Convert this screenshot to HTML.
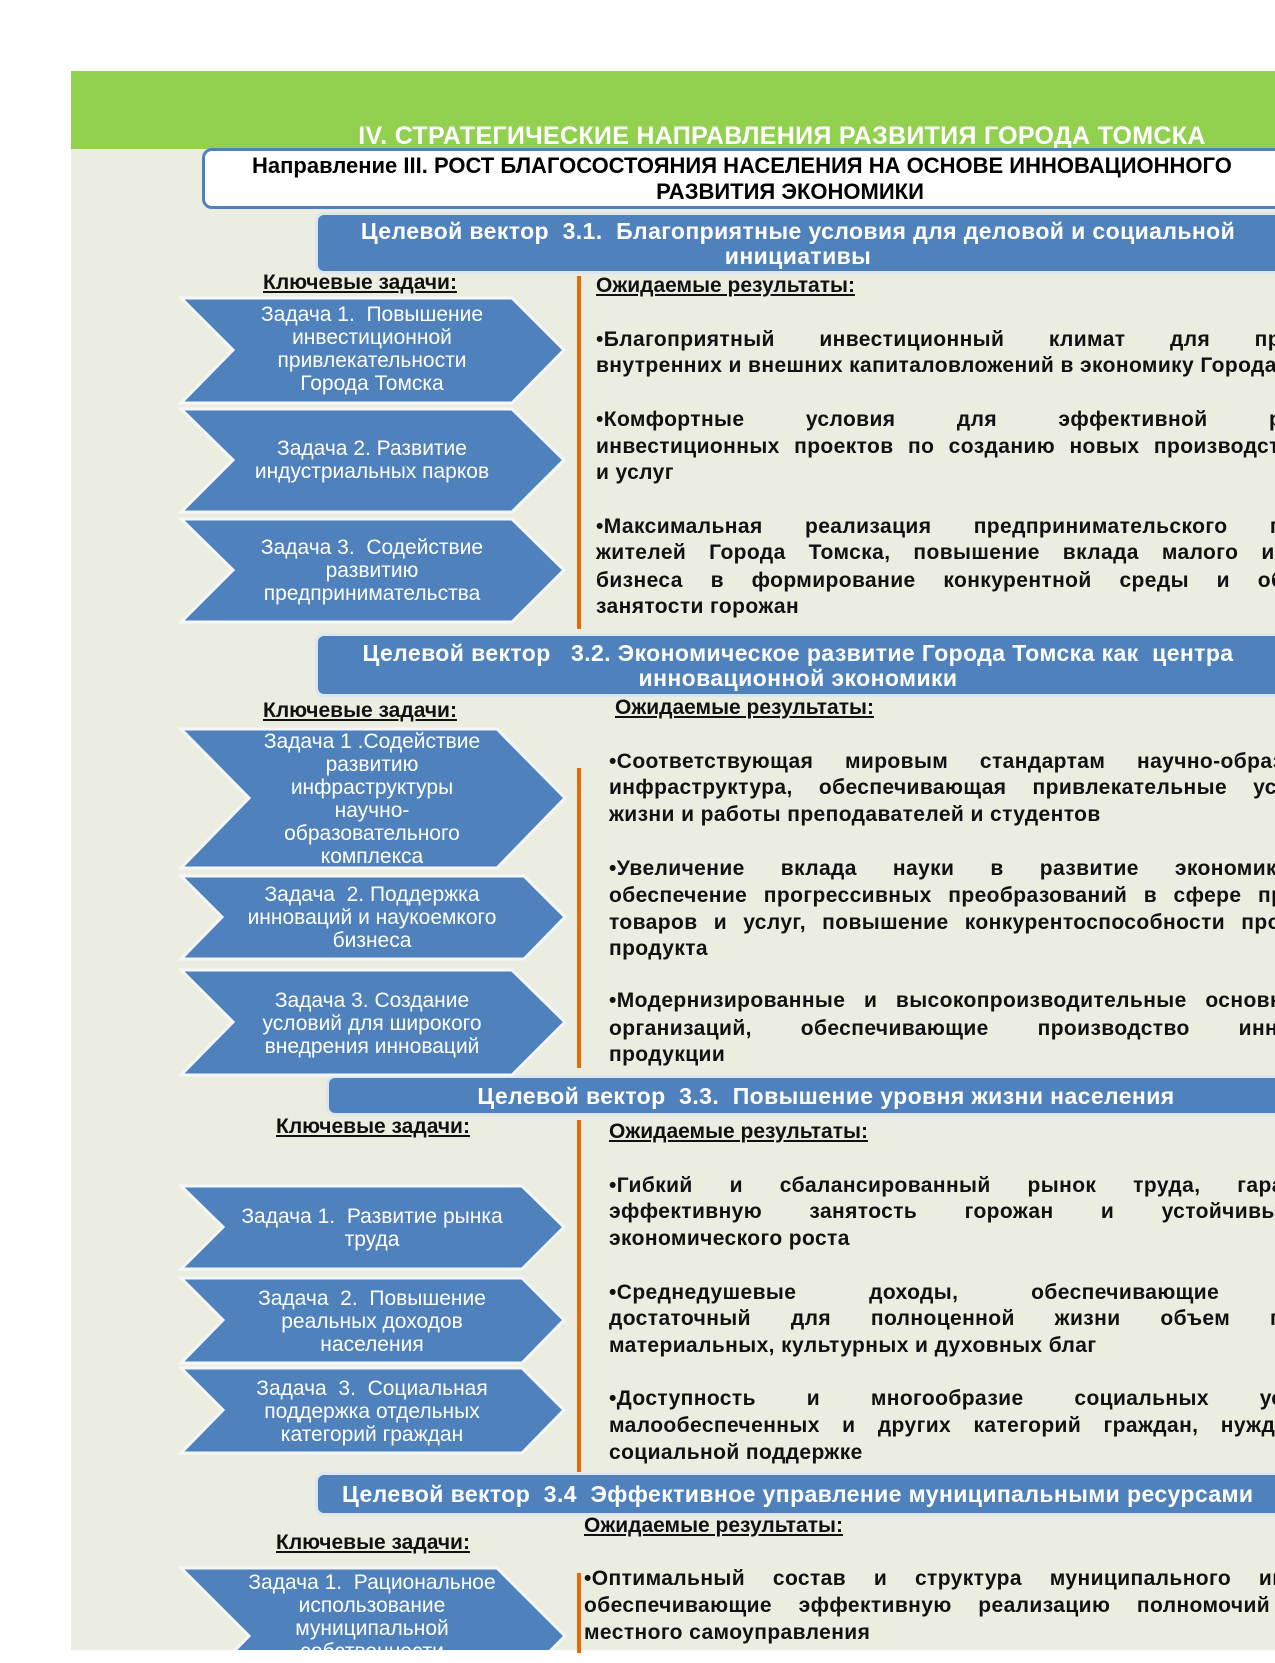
<!DOCTYPE html>
<html><head><meta charset="utf-8"><style>
html,body{margin:0;padding:0}
body{width:1275px;height:1650px;position:relative;overflow:hidden;background:#fff;font-family:"Liberation Sans",Arial,sans-serif}
.a{position:absolute}
.bg{left:71px;top:149px;width:1204px;height:1501px;background:#ebede0}
.green{left:71px;top:71px;width:1204px;height:78px;background:#92d050}
.vec{position:absolute;background:#4f81bd;color:#fff;font-weight:bold;font-size:23px;letter-spacing:0.4px;text-align:center;border-radius:6px 0 0 6px;box-shadow:0 0 0 3px #dce6f2}
.vec div{white-space:nowrap;position:absolute;left:0;width:100%;text-align:center}
.lbl{position:absolute;font-weight:bold;font-size:21px;text-decoration:underline;white-space:nowrap;color:#111}
.ln{position:absolute;width:800px;font-weight:bold;font-size:21px;letter-spacing:0.4px;line-height:26px;height:26px;white-space:nowrap;color:#111}
.j{text-align:justify;text-align-last:justify}
.or{position:absolute;width:4px;background:#e36c0a}
.arr{position:absolute}
.at{position:absolute;color:#fff;font-size:21px;line-height:23px;text-align:center;width:310px;white-space:nowrap}
</style></head><body>
<div class="a bg"></div>
<div class="a green"></div>
<div class="a" style="left:300px;top:122px;width:964px;text-align:center;color:#fff;font-weight:bold;font-size:25px;white-space:nowrap;letter-spacing:0.3px">IV. СТРАТЕГИЧЕСКИЕ НАПРАВЛЕНИЯ РАЗВИТИЯ ГОРОДА ТОМСКА</div>
<div class="a" style="left:202px;top:148px;width:1100px;height:61px;background:#fff;border:3px solid #4f81bd;border-radius:10px;box-sizing:border-box"></div>
<div class="a" style="left:252px;top:153px;white-space:nowrap;font-weight:bold;font-size:22px;color:#000">Направление III. РОСТ БЛАГОСОСТОЯНИЯ НАСЕЛЕНИЯ НА ОСНОВЕ ИННОВАЦИОННОГО</div>
<div class="a" style="left:560px;top:179px;width:460px;text-align:center;white-space:nowrap;font-weight:bold;font-size:22px;color:#000">РАЗВИТИЯ ЭКОНОМИКИ</div>

<!-- Vector 3.1 -->
<div class="vec" style="left:318px;top:215px;width:990px;height:56px">
<div style="top:3px;left:-15px">Целевой вектор&nbsp; 3.1.&nbsp; Благоприятные условия для деловой и социальной</div>
<div style="top:28px;left:-15px">инициативы</div></div>
<div class="lbl" style="left:263px;top:271px">Ключевые задачи:</div>
<div class="lbl" style="left:596px;top:274px">Ожидаемые результаты:</div>
<div class="or" style="left:577px;top:276px;height:353px"></div>
<div class="ln j" style="left:596px;top:327px">•Благоприятный инвестиционный климат для привлечения</div>
<div class="ln" style="left:596px;top:353px">внутренних и внешних капиталовложений в экономику Города Томска</div>
<div class="ln j" style="left:596px;top:407px">•Комфортные условия для эффективной реализации</div>
<div class="ln j" style="left:596px;top:434px">инвестиционных проектов по созданию новых производств товаров</div>
<div class="ln" style="left:596px;top:460px">и услуг</div>
<div class="ln j" style="left:596px;top:514px">•Максимальная реализация предпринимательского потенциала</div>
<div class="ln j" style="left:596px;top:540px">жителей Города Томска, повышение вклада малого и среднего</div>
<div class="ln j" style="left:596px;top:568px">бизнеса в формирование конкурентной среды и обеспечение</div>
<div class="ln" style="left:596px;top:594px">занятости горожан</div>

<!-- Vector 3.2 -->
<div class="vec" style="left:318px;top:636px;width:990px;height:58px">
<div style="top:4px;left:-15px">Целевой вектор&nbsp;&nbsp; 3.2. Экономическое развитие Города Томска как&nbsp; центра</div>
<div style="top:29px;left:-15px">инновационной экономики</div></div>
<div class="lbl" style="left:263px;top:699px">Ключевые задачи:</div>
<div class="lbl" style="left:615px;top:696px">Ожидаемые результаты:</div>
<div class="or" style="left:577px;top:768px;height:300px"></div>
<div class="ln j" style="left:609px;top:749px">•Соответствующая мировым стандартам научно-образовательная</div>
<div class="ln j" style="left:609px;top:775px">инфраструктура, обеспечивающая привлекательные условия для</div>
<div class="ln" style="left:609px;top:802px">жизни и работы преподавателей и студентов</div>
<div class="ln j" style="left:609px;top:856px">•Увеличение вклада науки в развитие экономики Города,</div>
<div class="ln j" style="left:609px;top:883px">обеспечение прогрессивных преобразований в сфере производства</div>
<div class="ln j" style="left:609px;top:910px">товаров и услуг, повышение конкурентоспособности производимого</div>
<div class="ln" style="left:609px;top:936px">продукта</div>
<div class="ln j" style="left:609px;top:988px">•Модернизированные и высокопроизводительные основные фонды</div>
<div class="ln j" style="left:609px;top:1016px">организаций, обеспечивающие производство инновационной</div>
<div class="ln" style="left:609px;top:1042px">продукции</div>

<!-- Vector 3.3 -->
<div class="vec" style="left:329px;top:1078px;width:994px;height:35px">
<div style="top:5px">Целевой вектор&nbsp; 3.3.&nbsp; Повышение уровня жизни населения</div></div>
<div class="lbl" style="left:276px;top:1115px">Ключевые задачи:</div>
<div class="lbl" style="left:609px;top:1120px">Ожидаемые результаты:</div>
<div class="or" style="left:577px;top:1120px;height:353px"></div>
<div class="ln j" style="left:609px;top:1173px">•Гибкий и сбалансированный рынок труда, гарантирующий</div>
<div class="ln j" style="left:609px;top:1199px">эффективную занятость горожан и устойчивые темпы</div>
<div class="ln" style="left:609px;top:1226px">экономического роста</div>
<div class="ln j" style="left:609px;top:1280px">•Среднедушевые доходы, обеспечивающие горожанам</div>
<div class="ln j" style="left:609px;top:1306px">достаточный для полноценной жизни объем потребления</div>
<div class="ln" style="left:609px;top:1333px">материальных, культурных и духовных благ</div>
<div class="ln j" style="left:609px;top:1386px">•Доступность и многообразие социальных услуг для</div>
<div class="ln j" style="left:609px;top:1413px">малообеспеченных и других категорий граждан, нуждающихся в</div>
<div class="ln" style="left:609px;top:1440px">социальной поддержке</div>

<!-- Vector 3.4 -->
<div class="vec" style="left:318px;top:1475px;width:1000px;height:38px">
<div style="top:6px;left:24px;text-align:left">Целевой вектор&nbsp; 3.4&nbsp; Эффективное управление муниципальными ресурсами</div></div>
<div class="lbl" style="left:584px;top:1514px">Ожидаемые результаты:</div>
<div class="lbl" style="left:276px;top:1531px">Ключевые задачи:</div>
<div class="or" style="left:577px;top:1573px;height:80px"></div>
<div class="ln j" style="left:584px;top:1566px">•Оптимальный состав и структура муниципального имущества,</div>
<div class="ln j" style="left:584px;top:1593px">обеспечивающие эффективную реализацию полномочий органов</div>
<div class="ln" style="left:584px;top:1620px">местного самоуправления</div>

<!-- arrows -->
<svg class="arr" style="left:0;top:0" width="1275" height="1650">
<g fill="#4f81bd" stroke="#f4f6fa" stroke-width="3">
<polygon points="181,298 512,298 564,350 512,403 181,403 233,350"/>
<polygon points="181,409 512,409 564,460 512,512 181,512 233,460"/>
<polygon points="181,519 512,519 564,570 512,622 181,622 233,570"/>
<polygon points="181,729 497,729 565,798 497,868 181,868 249,798"/>
<polygon points="181,876 524,876 565,917 524,959 181,959 222,917"/>
<polygon points="181,970 512,970 565,1022 512,1075 181,1075 233,1022"/>
<polygon points="181,1186 522,1186 564,1227 522,1269 181,1269 223,1227"/>
<polygon points="181,1278 522,1278 564,1320 522,1363 181,1363 223,1320"/>
<polygon points="181,1368 522,1368 564,1410 522,1453 181,1453 223,1410"/>
<polygon points="181,1568 497,1568 565,1636 497,1705 181,1705 249,1636"/>
</g></svg>
<div class="at" style="left:217px;top:303px">Задача 1.&nbsp; Повышение<br>инвестиционной<br>привлекательности<br>Города Томска</div>
<div class="at" style="left:217px;top:437px">Задача 2. Развитие<br>индустриальных парков</div>
<div class="at" style="left:217px;top:536px">Задача 3.&nbsp; Содействие<br>развитию<br>предпринимательства</div>
<div class="at" style="left:217px;top:730px">Задача 1 .Содействие<br>развитию<br>инфраструктуры<br>научно-<br>образовательного<br>комплекса</div>
<div class="at" style="left:217px;top:883px">Задача&nbsp; 2. Поддержка<br>инноваций и наукоемкого<br>бизнеса</div>
<div class="at" style="left:217px;top:989px">Задача 3. Создание<br>условий для широкого<br>внедрения инноваций</div>
<div class="at" style="left:217px;top:1205px">Задача 1.&nbsp; Развитие рынка<br>труда</div>
<div class="at" style="left:217px;top:1287px">Задача&nbsp; 2.&nbsp; Повышение<br>реальных доходов<br>населения</div>
<div class="at" style="left:217px;top:1377px">Задача&nbsp; 3.&nbsp; Социальная<br>поддержка отдельных<br>категорий граждан</div>
<div class="at" style="left:217px;top:1571px">Задача 1.&nbsp; Рациональное<br>использование<br>муниципальной<br>собственности</div>
</body></html>
